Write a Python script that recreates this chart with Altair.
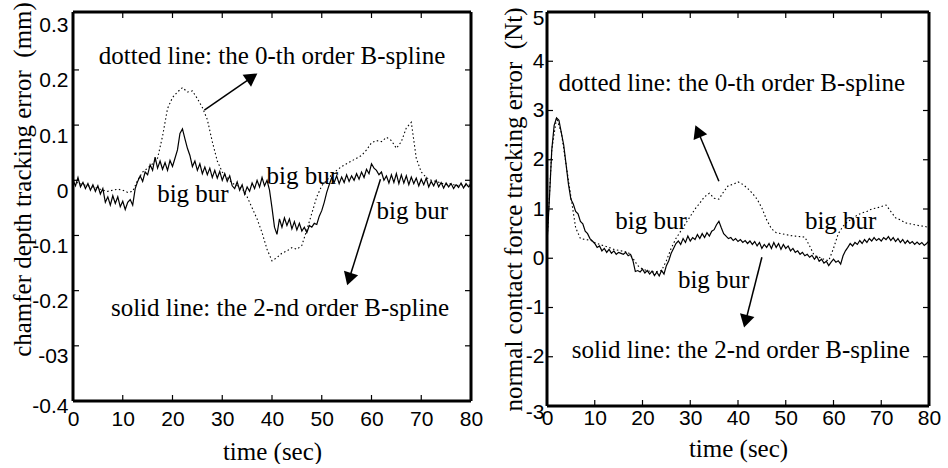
import math
import altair as alt
import pandas as pd

# ---------------- tick values / labels ----------------
x_ticks = [0, 10, 20, 30, 40, 50, 60, 70, 80]
x_labels = ["0", "10", "20", "30", "40", "50", "60", "70", "80"]

left_y_ticks = [-0.4, -0.3, -0.2, -0.1, 0, 0.1, 0.2, 0.3]
left_y_labels = ["-0.4", "-03", "-0.2", "-0.1", "0", "0.1", "0.2", "0.3"]

right_y_ticks = [-3, -2, -1, 0, 1, 2, 3, 4, 5]
right_y_labels = ["-3", "-2", "-1", "0", "1", "2", "3", "4", "5"]

# ---------------- left panel series ----------------
left_solid_t = [i * 0.5 for i in range(161)]
left_solid_v = [
    0.000, -0.010, 0.005, -0.012, -0.004, -0.015, -0.006, -0.018, -0.008, -0.020,
    -0.010, -0.025, -0.015, -0.040, -0.030, -0.045, -0.028, -0.042, -0.030, -0.048,
    -0.038, -0.053, -0.040, -0.035, -0.045, -0.015, -0.002, 0.008, -0.002, 0.015,
    0.010, 0.028, 0.018, 0.042, 0.022, 0.035, 0.020, 0.032, 0.018, 0.036,
    0.025, 0.040, 0.055, 0.085, 0.093, 0.075, 0.058, 0.045, 0.025, 0.035,
    0.018, 0.030, 0.012, 0.024, 0.010, 0.022, 0.005, 0.018, 0.004, 0.016,
    0.000, 0.012, -0.002, 0.008, -0.010, -0.015, -0.003, -0.018, -0.008, -0.025,
    -0.012, -0.020, -0.005, -0.015, 0.000, -0.012, 0.005, -0.010, 0.000, -0.018,
    -0.050, -0.085, -0.098, -0.070, -0.085, -0.068, -0.082, -0.070, -0.088, -0.075,
    -0.090, -0.078, -0.092, -0.085, -0.095, -0.082, -0.085, -0.078, -0.080, -0.065,
    -0.055, -0.040, -0.022, -0.008, 0.005, -0.004, 0.008, -0.006, 0.006, -0.004,
    0.010, -0.002, 0.008, 0.000, 0.012, 0.002, 0.015, 0.005, 0.020, 0.012,
    0.030, 0.022, 0.018, 0.010, 0.015, 0.000, 0.008, -0.005, 0.010, -0.004,
    0.012, -0.006, 0.010, -0.005, 0.008, -0.008, 0.006, -0.006, 0.004, -0.010,
    0.002, -0.008, 0.004, -0.012, -0.002, -0.010, 0.000, -0.012, -0.004, -0.014,
    -0.005, -0.012, -0.006, -0.015, -0.008, -0.013, -0.005, -0.014, -0.006, -0.012,
    -0.008,
]
left_dot_t = list(range(81))
left_dot_v = [
    0.000, -0.005, -0.008, -0.010, -0.012, -0.015, -0.018, -0.020, -0.018, -0.016,
    -0.018, -0.022, -0.020, 0.000, 0.015, 0.022, 0.030, 0.040, 0.080, 0.130,
    0.150, 0.160, 0.168, 0.160, 0.162, 0.148, 0.132, 0.110, 0.070, 0.035,
    0.015, 0.005, -0.005, -0.010, -0.015, -0.030, -0.050, -0.070, -0.095, -0.125,
    -0.146, -0.140, -0.132, -0.128, -0.122, -0.125, -0.118, -0.090, -0.060, -0.030,
    -0.010, 0.000, 0.010, 0.018, 0.025, 0.030, 0.035, 0.040, 0.045, 0.055,
    0.068, 0.072, 0.070, 0.078, 0.072, 0.058, 0.070, 0.095, 0.105, 0.040,
    0.015, 0.005, 0.000, -0.002, -0.005, -0.008, -0.006, -0.010, -0.008, -0.010,
    -0.008,
]

# ---------------- right panel series ----------------
right_solid_t = [i * 0.5 for i in range(161)]
right_solid_v = [
    0.30, 1.20, 2.20, 2.70, 2.85, 2.80, 2.55, 2.30, 1.90, 1.50,
    1.20, 1.10, 0.95, 0.90, 0.75, 0.70, 0.55, 0.50, 0.40, 0.35,
    0.30, 0.22, 0.25, 0.15, 0.20, 0.12, 0.18, 0.10, 0.15, 0.08,
    0.12, 0.10, 0.08, 0.12, 0.05, 0.08, -0.05, -0.27, -0.25, -0.28,
    -0.22, -0.30, -0.25, -0.32, -0.26, -0.35, -0.28, -0.36, -0.25, -0.32,
    -0.15, -0.05, 0.10, 0.20, 0.30, 0.35, 0.28, 0.40, 0.32, 0.45,
    0.35, 0.42, 0.38, 0.48, 0.40, 0.50, 0.42, 0.52, 0.45, 0.55,
    0.58, 0.68, 0.75, 0.62, 0.50, 0.45, 0.40, 0.42, 0.36, 0.40,
    0.34, 0.38, 0.32, 0.36, 0.30, 0.35, 0.28, 0.34, 0.25, 0.32,
    0.20, 0.28, 0.22, 0.30, 0.20, 0.32, 0.22, 0.30, 0.18, 0.28,
    0.20, 0.25, 0.15, 0.20, 0.12, 0.15, 0.08, 0.12, 0.05, 0.08,
    0.02, 0.06, -0.02, 0.04, -0.06, -0.02, -0.10, -0.06, -0.15, -0.08,
    -0.02, -0.08, -0.05, -0.12, 0.05, 0.15, 0.22, 0.30, 0.25, 0.32,
    0.28, 0.36, 0.30, 0.38, 0.32, 0.40, 0.35, 0.42, 0.36, 0.40,
    0.35, 0.42, 0.38, 0.44, 0.36, 0.42, 0.34, 0.40, 0.32, 0.38,
    0.30, 0.36, 0.30, 0.34, 0.28, 0.33, 0.28, 0.32, 0.26, 0.30,
    0.35,
]
right_dot_t = list(range(81))
right_dot_v = [
    0.30, 2.20, 2.85, 2.55, 1.90, 1.25, 0.62, 0.40, 0.38, 0.37,
    0.32, 0.28, 0.25, 0.22, 0.18, 0.16, 0.14, 0.12, 0.00, -0.15,
    -0.22, -0.25, -0.28, -0.27, -0.25, -0.05, 0.20, 0.40, 0.55, 0.70,
    0.85, 1.00, 1.12, 1.25, 1.32, 1.22, 1.20, 1.35, 1.48, 1.50,
    1.55, 1.50, 1.42, 1.32, 1.20, 1.02, 0.78, 0.60, 0.52, 0.50,
    0.48, 0.46, 0.45, 0.44, 0.43, 0.25, 0.05, 0.02, -0.02, -0.05,
    0.20, 0.50, 0.65, 0.75, 0.80, 0.88, 0.92, 0.95, 1.00, 1.02,
    1.05, 1.08, 0.95, 0.82, 0.78, 0.72, 0.70, 0.68, 0.66, 0.65,
    0.62,
]

# ---------------- annotations ----------------
note_text = [
    "dotted line: the 0-th order B-spline",
    "big bur",
    "big bur",
    "big bur",
    "solid line: the 2-nd order B-spline",
]
left_note_t = [40.0, 24.1, 46.1, 68.2, 41.6]
left_note_v = [0.225, -0.025, 0.007, -0.056, -0.232]
right_note_t = [38.7, 21.8, 61.5, 34.9, 40.6]
right_note_v = [3.56, 0.75, 0.75, -0.45, -1.87]

# arrows: tail -> head
left_arrow_t = [26.4, 61.8]
left_arrow_v = [0.127, 0.002]
left_head_t = [36.0, 55.5]
left_head_v = [0.187, -0.179]
right_arrow_t = [36.0, 45.0]
right_arrow_v = [1.565, 0.02]
right_head_t = [31.6, 41.6]
right_head_v = [2.58, -1.28]

SERIF = "Liberation Serif"
SANS = "Liberation Sans"
FRAME = "#000000"
TICK_LEN = 6  # inward tick length in pixels


def label_expr(vals, labels):
    expr = "datum.label"
    for v, l in zip(vals, labels):
        expr = f"datum.value == {v} ? '{l}' : ({expr})"
    return expr


def panel(W, H, ydom, yvals, ylabels, ytitle, st, sv, dt, dv,
          nt, nv, at, av, ht, hv, xlabpad, xtitley, ytitlex, ytitley,
          ylabpad, yoff_test, yoff_special, yoff_default):
    X = alt.X(
        "t:Q",
        scale=alt.Scale(domain=[0, 80], nice=False, zero=False),
        axis=alt.Axis(
            values=x_ticks, labelExpr=label_expr(x_ticks, x_labels),
            title="time (sec)", titleFont=SERIF, titleFontSize=25,
            titleFontWeight="normal", titleColor="black", titleY=xtitley,
            titleBaseline="top",
            labelFont=SANS, labelFontSize=21, labelColor="black",
            labelPadding=xlabpad, labelFlush=False,
            domain=False, ticks=False, tickSize=0, grid=False,
        ),
    )
    Y = alt.Y(
        "v:Q",
        scale=alt.Scale(domain=ydom, nice=False, zero=False),
        axis=alt.Axis(
            values=yvals, labelExpr=label_expr(yvals, ylabels),
            title=ytitle, titleFont=SERIF, titleFontSize=25,
            titleFontWeight="normal", titleColor="black",
            titleAngle=270, titleAlign="center", titleBaseline="middle",
            titleX=ytitlex, titleY=ytitley,
            labelFont=SANS, labelFontSize=21, labelColor="black",
            labelPadding=ylabpad, labelFlush=False,
            labelOffset={"condition": {"test": yoff_test, "value": yoff_special},
                         "value": yoff_default},
            domain=False, ticks=False, tickSize=0, grid=False,
        ),
    )
    solid = alt.Chart(pd.DataFrame({"t": st, "v": sv})).mark_line(
        color="black", strokeWidth=1.2, clip=True).encode(x=X, y=Y)
    dotted = alt.Chart(pd.DataFrame({"t": dt, "v": dv})).mark_line(
        color="black", strokeWidth=1.1, strokeDash=[1.5, 2.5], clip=True).encode(x=X, y=Y)

    # frame: the four plot edges, in data coordinates
    edges = pd.DataFrame({
        "t": [0, 0, 0, 80],
        "t2": [80, 80, 0, 80],
        "v": [ydom[0], ydom[1], ydom[0], ydom[0]],
        "v2": [ydom[0], ydom[1], ydom[1], ydom[1]],
    })
    frame = alt.Chart(edges).mark_rule(color=FRAME, strokeWidth=3, opacity=1).encode(
        x=X, y=Y, x2="t2:Q", y2="v2:Q")

    # inward ticks on all four sides
    dx_tick = TICK_LEN * 80.0 / W
    dy_tick = TICK_LEN * (ydom[1] - ydom[0]) / H
    inner_x = x_ticks[1:-1]
    inner_y = yvals[1:-1]
    tk_t, tk_t2, tk_v, tk_v2 = [], [], [], []
    for xv in inner_x:
        tk_t += [xv, xv]
        tk_t2 += [xv, xv]
        tk_v += [ydom[0], ydom[1]]
        tk_v2 += [ydom[0] + dy_tick, ydom[1] - dy_tick]
    for yv in inner_y:
        tk_t += [0, 80]
        tk_t2 += [dx_tick, 80 - dx_tick]
        tk_v += [yv, yv]
        tk_v2 += [yv, yv]
    ticks = alt.Chart(pd.DataFrame({"t": tk_t, "t2": tk_t2, "v": tk_v, "v2": tk_v2})).mark_rule(
        color=FRAME, strokeWidth=1.2).encode(x=X, y=Y, x2="t2:Q", y2="v2:Q")

    notes = alt.Chart(pd.DataFrame({"t": nt, "v": nv, "txt": note_text})).mark_text(
        font=SERIF, fontSize=25, color="black", align="center", baseline="middle"
    ).encode(x=X, y=Y, text="txt:N")

    px_x = W / 80.0
    px_y = H / (ydom[1] - ydom[0])
    angles = []
    for a0, b0, a1, b1 in zip(at, av, ht, hv):
        ddx = (a1 - a0) * px_x
        ddy = -(b1 - b0) * px_y
        angles.append(math.degrees(math.atan2(ddx, -ddy)) % 360)
    arr = pd.DataFrame({"t": at, "v": av, "t2": ht, "v2": hv})
    shafts = alt.Chart(arr).mark_rule(color="black", strokeWidth=1.5).encode(
        x=X, y=Y, x2="t2:Q", y2="v2:Q")
    heads = alt.Chart(pd.DataFrame({"t": ht, "v": hv, "ang": angles})).mark_point(
        shape="triangle-up", filled=True, color="black", size=220, opacity=1
    ).encode(x=X, y=Y, angle=alt.Angle("ang:Q", scale=None))

    return alt.layer(dotted, solid, ticks,
                     notes, shafts, heads, frame).properties(width=W, height=H)


left = panel(
    398, 389, [-0.4, 0.305], left_y_ticks, left_y_labels,
    "chamfer depth tracking error\u00a0 (mm)",
    left_solid_t, left_solid_v, left_dot_t, left_dot_v,
    left_note_t, left_note_v, left_arrow_t, left_arrow_v, left_head_t, left_head_v,
    xlabpad=7, xtitley=38, ytitlex=-51, ytitley=167, ylabpad=5,
    yoff_test="datum.value == -0.4", yoff_special=5, yoff_default=11,
)
right = panel(
    382, 394, [-3, 5], right_y_ticks, right_y_labels,
    "normal contact force tracking error\u00a0 (Nt)",
    right_solid_t, right_solid_v, right_dot_t, right_dot_v,
    right_note_t, right_note_v, right_arrow_t, right_arrow_v, right_head_t, right_head_v,
    xlabpad=1, xtitley=30, ytitlex=-34, ytitley=197, ylabpad=3,
    yoff_test="datum.value == 5 || datum.value == -3", yoff_special=6, yoff_default=0,
)

chart = alt.hconcat(left, right, spacing=76, bounds="flush").properties(
    padding={"left": 9, "top": 1, "right": 0, "bottom": 0},
    background="white",
).configure_view(stroke=None)

chart.save("out.html", embed_options={"renderer": "svg", "actions": False})
